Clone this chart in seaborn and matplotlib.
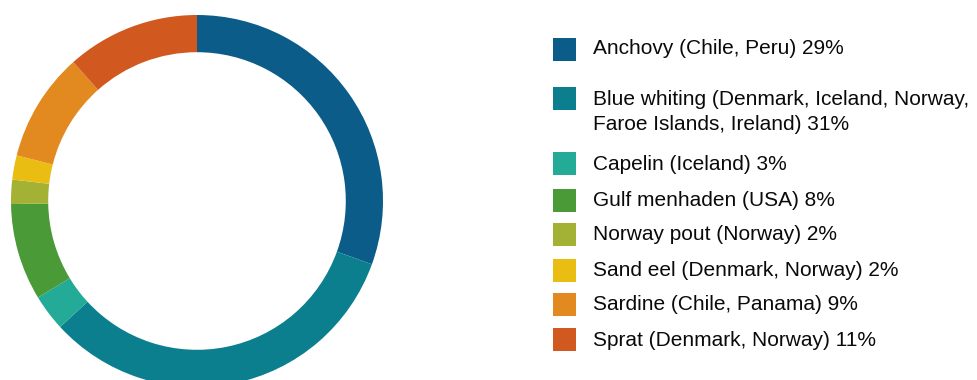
import matplotlib
matplotlib.use("Agg")
import matplotlib.pyplot as plt
import seaborn as sns
from matplotlib.patches import Rectangle

# Catch shares of the main forage fish species (percent)
species = [
    "Anchovy (Chile, Peru)",
    "Blue whiting (Denmark, Iceland, Norway,\nFaroe Islands, Ireland)",
    "Capelin (Iceland)",
    "Gulf menhaden (USA)",
    "Norway pout (Norway)",
    "Sand eel (Denmark, Norway)",
    "Sardine (Chile, Panama)",
    "Sprat (Denmark, Norway)",
]
shares = [29, 31, 3, 8, 2, 2, 9, 11]
colors = ["#0b5c88", "#0b7f8e", "#23ab98", "#4b9a38",
          "#a3b235", "#e9bd12", "#e2891f", "#d1581f"]

sns.set_theme(style="white")
plt.rcParams["font.family"] = ["Liberation Sans", "DejaVu Sans"]
palette = sns.color_palette(colors)

W, H = 978, 380
fig = plt.figure(figsize=(W / 100, H / 100), dpi=100)
fig.patch.set_facecolor("white")

# Ring chart, centred at (197, 201) px with a 186 px outer radius
cx, cy, r = 197, 201, 186
ax = fig.add_axes([(cx - r) / W, (H - cy - r) / H, 2 * r / W, 2 * r / H])
ax.pie(shares, colors=palette, startangle=90, counterclock=False,
       radius=1.0, wedgeprops=dict(width=0.2, edgecolor="none", linewidth=0))
ax.set_xlim(-1, 1)
ax.set_ylim(-1, 1)
ax.set_aspect("equal")
ax.axis("off")

# Legend: colour swatch plus label with share
swatch_y = [49, 98, 163, 200, 234, 270, 304, 339]
text_y = [49, 112, 165, 201, 235, 270, 305, 340]
sq = 23
for name, val, col, ys, yt in zip(species, shares, palette, swatch_y, text_y):
    fig.patches.append(Rectangle((553 / W, (H - ys - sq / 2) / H), sq / W, sq / H,
                                 transform=fig.transFigure, facecolor=col,
                                 edgecolor="none"))
    fig.text(593 / W, (H - yt) / H, f"{name} {val}%", fontsize=15,
             color="#0a0a0a", va="center", ha="left", linespacing=1.45)

fig.savefig("out.png", dpi=100, facecolor="white")
